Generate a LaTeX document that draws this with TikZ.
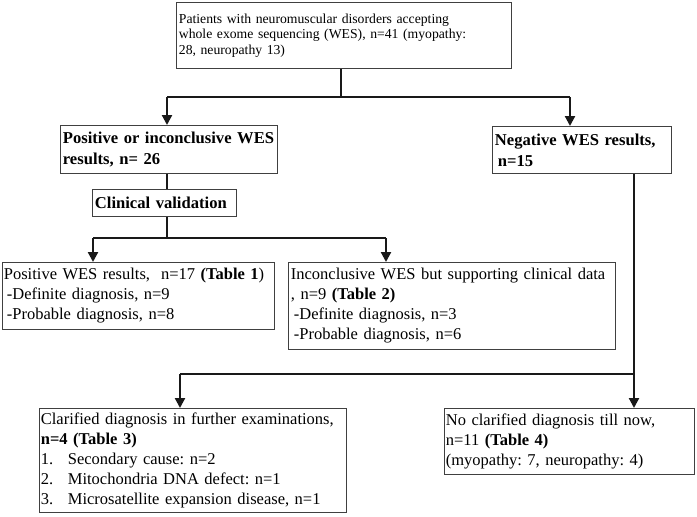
\documentclass[tikz,border=0pt]{standalone}
\usepackage{fontspec}
\setmainfont{Liberation Serif}
\usetikzlibrary{arrows.meta}
\frenchspacing
\tikzset{
  box/.style={draw=black!75, line width=0.8pt, anchor=north west, align=left, inner xsep=2.5pt, inner ysep=0pt},
  conn/.style={line width=2.2pt, black!90},
  arr/.style={conn, -{Triangle[width=10pt,length=10pt]}},
  small/.style={font=\fontsize{13.7}{15.5}\selectfont},
  big/.style={font=\fontsize{16.5}{20}\selectfont},
  bigb/.style={font=\fontsize{16.6}{21}\selectfont\bfseries},
}
\newcommand{\ind}{\hspace*{3pt}}
\newcommand{\num}[1]{\makebox[27pt][l]{#1}}
\begin{document}
\begin{tikzpicture}[x=1pt,y=-1pt]
\useasboundingbox (0,0) rectangle (697,517);
\node[box, small, text width=330pt, minimum height=66pt] (top) at (176,2)
  {Patients with neuromuscular disorders accepting\\whole exome sequencing (WES), n=41 (myopathy:\\28, neuropathy 13)};
\node[box, bigb, text width=212pt, minimum height=48pt] (pos) at (60,125)
  {Positive or inconclusive WES\\results, n= 26};
\node[box, bigb, text width=139pt, minimum height=27pt] (clin) at (92,189)
  {Clinical validation};
\node[box, bigb, text width=174pt, minimum height=47pt] (neg) at (492,126)
  {Negative WES results,\\\ind n=15};
\node[box, big, text width=269pt, minimum height=67pt, inner xsep=1.5pt] (pw) at (2,262)
  {Positive WES results, \ n=17 \textbf{(Table 1})\\\ind-Definite diagnosis, n=9\\\ind-Probable diagnosis, n=8};
\node[box, big, text width=322pt, minimum height=87pt] (inc) at (288,262)
  {Inconclusive WES but supporting clinical data\\, n=9 \textbf{(Table 2)}\\\ind-Definite diagnosis, n=3\\\ind-Probable diagnosis, n=6};
\node[box, big, text width=304pt, minimum height=104pt, inner xsep=1.5pt] (clar) at (39,408)
  {Clarified diagnosis in further examinations,\\\textbf{n=4 (Table 3)}\\\num{1.}Secondary cause: n=2\\\num{2.}Mitochondria DNA defect: n=1\\\num{3.}Microsatellite expansion disease, n=1};
\node[box, big, text width=247pt, minimum height=66pt, inner xsep=1.5pt] (noc) at (444,408)
  {No clarified diagnosis till now,\\n=11 \textbf{(Table 4)}\\(myopathy: 7, neuropathy: 4)};
% junctions
\coordinate (j1) at (341,97);
\coordinate (j1l) at (167,97);
\coordinate (j1r) at (570,97);
\coordinate (j2) at (167,238);
\coordinate (j2l) at (93,238);
\coordinate (j2r) at (386,238);
\coordinate (j3) at (634,374);
\coordinate (j3l) at (180,374);
% connectors
\draw[conn] (top.south -| j1) -- (j1);
\draw[conn] (j1l) -- (j1r);
\draw[arr] (j1l) -- (j1l |- pos.north);
\draw[arr] (j1r) -- (j1r |- neg.north);
\draw[conn] (j2 |- pos.south) -- (j2 |- clin.north);
\draw[conn] (j2 |- clin.south) -- (j2);
\draw[conn] (j2l) -- (j2r);
\draw[arr] (j2l) -- (j2l |- pw.north);
\draw[arr] (j2r) -- (j2r |- inc.north);
\draw[arr] (j3 |- neg.south) -- (j3 |- noc.north);
\draw[conn] (j3) -- (j3l);
\draw[arr] (j3l) -- (j3l |- clar.north);
\end{tikzpicture}
\end{document}
